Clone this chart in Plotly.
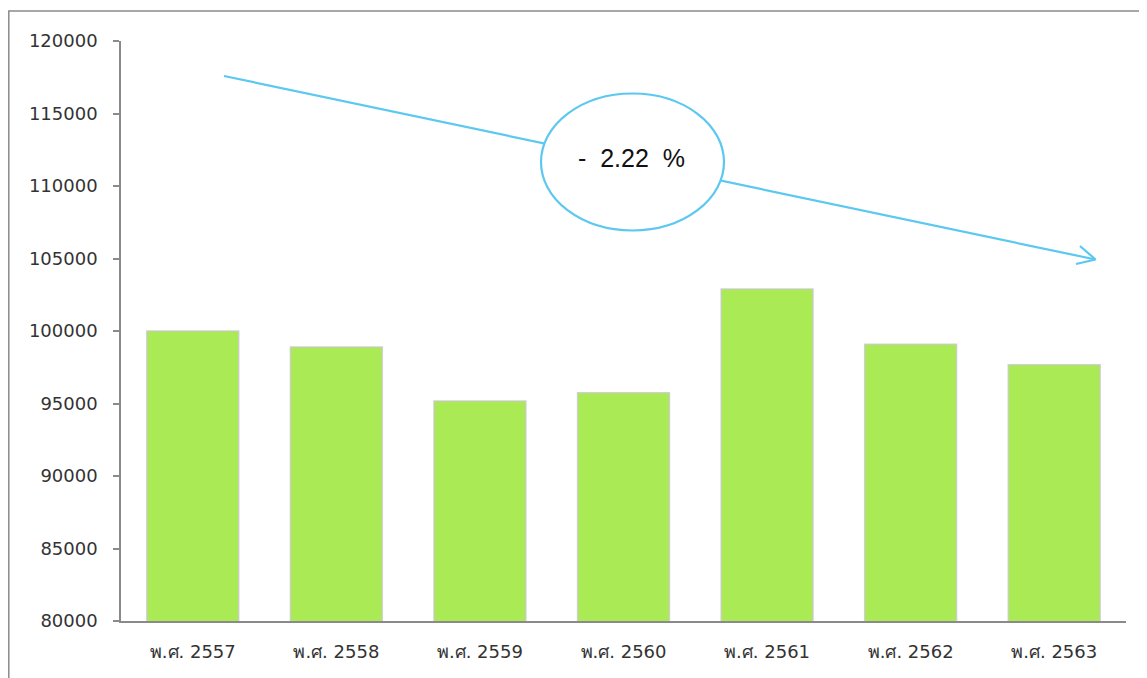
import plotly.graph_objects as go

categories = ["พ.ศ. 2557", "พ.ศ. 2558", "พ.ศ. 2559", "พ.ศ. 2560", "พ.ศ. 2561", "พ.ศ. 2562", "พ.ศ. 2563"]
values = [100000, 98900, 95170, 95750, 102900, 99080, 97680]
y_ticks = [80000, 85000, 90000, 95000, 100000, 105000, 110000, 115000, 120000]
change_label = "-  2.22  %"

W, H = 1147, 678
OFF = 8  # page body margin
# plot area in screen pixels
X0, X1, Y0, Y1 = 121, 1126, 41, 621
L, R, T, B = X0 - OFF, W - X1 + OFF, Y0 - OFF, H - Y1 + OFF


def px(x):
    return (x - X0) / (X1 - X0)


def py(y):
    return (Y1 - y) / (Y1 - Y0)


BLUE = "#5BC8F0"
FONT = "DejaVu Sans, Noto Sans, sans-serif"

fig = go.Figure()
fig.add_trace(go.Bar(
    x=categories, y=values,
    width=0.64,
    marker=dict(color="#AAEB55", line=dict(color="rgba(200,200,200,0.8)", width=1.5)),
    showlegend=False,
))

shapes = [
    # outer frame
    dict(type="rect", xref="paper", yref="paper", x0=px(OFF + 0.8), y0=py(720), x1=px(1180), y1=py(11),
         line=dict(color="#8a8a8a", width=1.5), fillcolor="rgba(0,0,0,0)", layer="above"),
    # trend arrow
    dict(type="line", xref="paper", yref="paper", x0=px(224), y0=py(76), x1=px(1095.5), y1=py(259.5),
         line=dict(color=BLUE, width=2.2)),
    dict(type="line", xref="paper", yref="paper", x0=px(1080), y0=py(246), x1=px(1095.5), y1=py(259.5),
         line=dict(color=BLUE, width=2.2)),
    dict(type="line", xref="paper", yref="paper", x0=px(1076), y0=py(264), x1=px(1095.5), y1=py(259.5),
         line=dict(color=BLUE, width=2.2)),
    # ellipse
    dict(type="circle", xref="paper", yref="paper", x0=px(541), y0=py(230.5), x1=px(724), y1=py(93.5),
         line=dict(color=BLUE, width=2.2), fillcolor="white"),
]

fig.update_layout(
    width=W, height=H,
    margin=dict(l=L, r=R, t=T, b=B),
    paper_bgcolor="white", plot_bgcolor="white",
    font=dict(family=FONT, size=18, color="#333333"),
    shapes=shapes,
    annotations=[dict(xref="paper", yref="paper", x=px(631), y=py(158), text=change_label,
                      xanchor="center", yanchor="middle", showarrow=False,
                      font=dict(family="Liberation Sans, Arial, sans-serif", size=25, color="#111111"))],
    xaxis=dict(showline=True, linecolor="#8a8a8a", linewidth=1.5, ticks="", showgrid=False,
               ticklabelstandoff=14, tickfont=dict(size=18, color="#333333")),
    yaxis=dict(range=[80000, 120000], tickvals=y_ticks, ticktext=[str(v) for v in y_ticks],
               showline=True, linecolor="#8a8a8a", linewidth=1.5, ticks="outside", ticklen=6,
               tickcolor="#8a8a8a", tickwidth=1.5, showgrid=False, zeroline=False,
               ticklabelstandoff=12, tickfont=dict(size=18, color="#333333")),
)

fig.write_html("out.html")
